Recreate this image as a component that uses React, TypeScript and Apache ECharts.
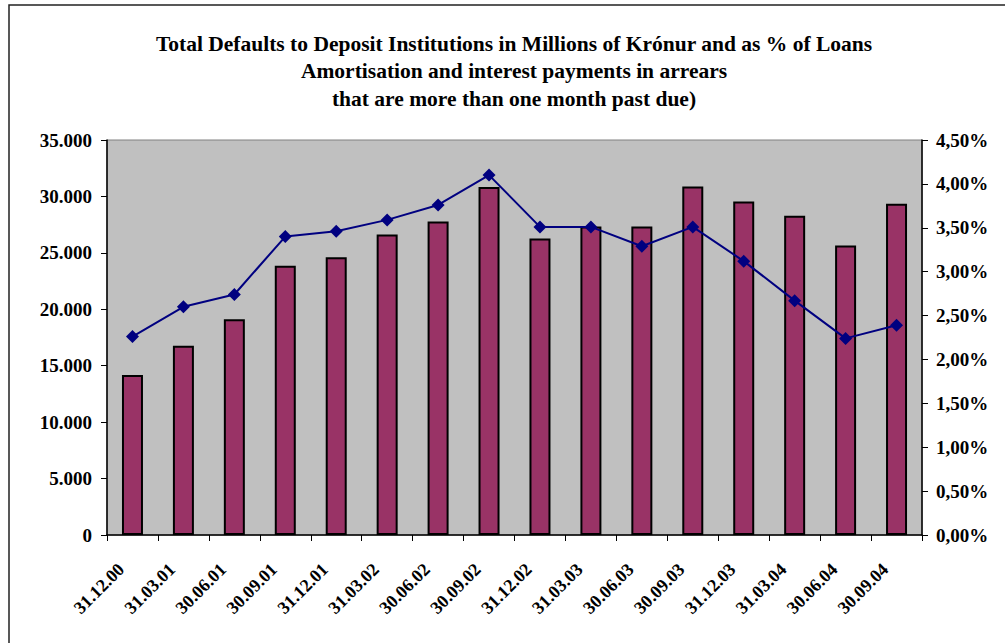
import React, { useEffect, useRef } from "react";
import * as echarts from "echarts";

const titleLines = [
  "Total Defaults to Deposit Institutions in Millions of Krónur and as % of Loans",
  "Amortisation and interest payments in arrears",
  "that are more than one month past due)",
];

const categories = [
  "31.12.00", "31.03.01", "30.06.01", "30.09.01", "31.12.01", "31.03.02",
  "30.06.02", "30.09.02", "31.12.02", "31.03.03", "30.06.03", "30.09.03",
  "31.12.03", "31.03.04", "30.06.04", "30.09.04",
];

const defaultsMillions = [
  14170, 16780, 19110, 23850, 24620, 26630, 27780, 30830,
  26270, 27340, 27340, 30890, 29560, 28280, 25650, 29350,
];

const defaultsPctOfLoans = [
  2.26, 2.6, 2.74, 3.4, 3.46, 3.59, 3.76, 4.1,
  3.51, 3.51, 3.29, 3.51, 3.12, 2.67, 2.24, 2.39,
];

const leftTicks = { min: 0, max: 35000, interval: 5000 };
const rightTicks = { min: 0, max: 4.5, interval: 0.5 };

const FONT = "'Liberation Serif', 'Times New Roman', serif";

export default function App() {
  const ref = useRef<HTMLDivElement>(null);

  useEffect(() => {
    if (!ref.current) return;
    const chart = echarts.init(ref.current, undefined, { renderer: "svg" });
    chart.setOption({
      animation: false,
      backgroundColor: "#ffffff",
      title: {
        text: titleLines.join("\n"),
        left: 509,
        textAlign: "center",
        top: 25,
        textStyle: {
          fontFamily: FONT,
          fontWeight: "bold",
          fontSize: 21.5,
          lineHeight: 27.5,
          color: "#000",
        },
      },
      graphic: [
        {
          type: "rect",
          shape: { x: 9, y: 5, width: 1100, height: 800 },
          style: { fill: "none", stroke: "#222", lineWidth: 1.5 },
          silent: true,
        },
      ],
      grid: {
        left: 107,
        right: 83,
        top: 140,
        bottom: 108,
        show: true,
        backgroundColor: "#C0C0C0",
        borderColor: "#808080",
        borderWidth: 1,
      },
      xAxis: {
        type: "category",
        data: categories,
        boundaryGap: true,
        axisLine: { lineStyle: { color: "#000", width: 1.5 } },
        axisTick: { show: true, length: 6, alignWithLabel: false, lineStyle: { color: "#000" } },
        axisLabel: {
          interval: 0,
          rotate: 45,
          margin: 20,
          padding: [0, 16, 0, 0],
          fontFamily: FONT,
          fontWeight: "bold",
          fontSize: 18,
          color: "#000",
        },
        splitLine: { show: false },
      },
      yAxis: [
        {
          type: "value",
          min: leftTicks.min,
          max: leftTicks.max,
          interval: leftTicks.interval,
          position: "left",
          axisLine: { show: true, lineStyle: { color: "#000", width: 1.5 } },
          axisTick: { show: true, length: 6, lineStyle: { color: "#000" } },
          splitLine: { show: false },
          axisLabel: {
            margin: 15,
            fontFamily: FONT,
            fontWeight: "bold",
            fontSize: 19,
            color: "#000",
            formatter: (v: number) =>
              String(Math.round(v)).replace(/\B(?=(\d{3})+(?!\d))/g, "."),
          },
        },
        {
          type: "value",
          min: rightTicks.min,
          max: rightTicks.max,
          interval: rightTicks.interval,
          position: "right",
          axisLine: { show: true, lineStyle: { color: "#000", width: 1.5 } },
          axisTick: { show: true, length: 6, lineStyle: { color: "#000" } },
          splitLine: { show: false },
          axisLabel: {
            margin: 14,
            fontFamily: FONT,
            fontWeight: "bold",
            fontSize: 19,
            color: "#000",
            formatter: (v: number) => v.toFixed(2).replace(".", ",") + "%",
          },
        },
      ],
      series: [
        {
          type: "bar",
          name: "Defaults",
          data: defaultsMillions,
          yAxisIndex: 0,
          barWidth: 21,
          itemStyle: { color: "#993366", borderColor: "#000", borderWidth: 2 },
        },
        {
          type: "line",
          name: "% of loans",
          data: defaultsPctOfLoans,
          yAxisIndex: 1,
          symbol: "diamond",
          symbolSize: 13,
          lineStyle: { color: "#000080", width: 2 },
          itemStyle: { color: "#000080" },
        },
      ],
    });
    return () => chart.dispose();
  }, []);

  return (
    <div
      ref={ref}
      style={{ position: "fixed", left: 0, top: 0, width: 1005, height: 643 }}
    />
  );
}
